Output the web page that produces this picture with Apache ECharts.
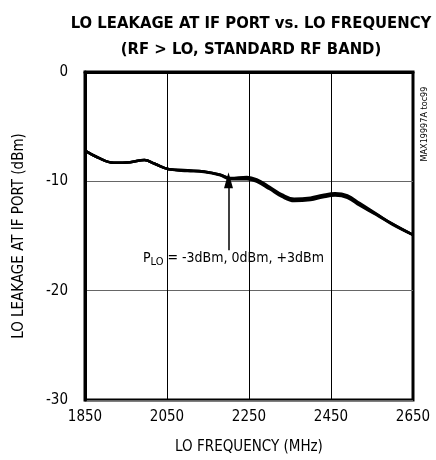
<!DOCTYPE html>
<html>
<head>
<meta charset="utf-8">
<script src="https://cdn.jsdelivr.net/npm/echarts@6/dist/echarts.min.js"></script>
<style>
  html, body { margin: 0; padding: 0; background: #fff; }
  #chart { width: 436px; height: 460px; }
</style>
</head>
<body>
<div id="chart"></div>
<script>
// LO frequency (MHz) and leakage (dBm) for the three LO drive levels
const freqs = [1850, 1880, 1920, 1960, 1995, 2020, 2055, 2100, 2140, 2180, 2205, 2245, 2270, 2300, 2330, 2360, 2400, 2430, 2460, 2490, 2520, 2560, 2600, 2650];
const leakM3 = [-7.2, -7.8, -8.3, -8.25, -8.05, -8.4, -8.9, -9.0, -9.1, -9.4, -9.7, -9.6, -9.85, -10.5, -11.2, -11.6, -11.5, -11.25, -11.1, -11.3, -12.0, -12.95, -13.9, -14.9];
const leak0  = [-7.2, -7.8, -8.3, -8.25, -8.05, -8.4, -8.9, -9.0, -9.1, -9.4, -9.75, -9.7, -9.95, -10.6, -11.3, -11.7, -11.6, -11.35, -11.2, -11.4, -12.1, -13.0, -13.9, -14.9];
const leakP3 = [-7.2, -7.8, -8.3, -8.25, -8.05, -8.4, -8.9, -9.05, -9.15, -9.45, -9.8, -9.8, -10.05, -10.7, -11.4, -11.8, -11.7, -11.45, -11.3, -11.5, -12.2, -13.05, -13.95, -14.9];
const xTicks = [1850, 2050, 2250, 2450, 2650];
const yTicks = [-30, -20, -10, 0];

const narrow = '"Liberation Sans Narrow", "DejaVu Sans Condensed", sans-serif';

const chart = echarts.init(document.getElementById('chart'));

function curve(vals) {
  return {
    type: 'line',
    data: freqs.map((f, i) => [f, vals[i]]),
    smooth: 0.4,
    symbol: 'none',
    lineStyle: { color: '#000', width: 2.6 },
    z: 5
  };
}

const series = [curve(leakM3), curve(leak0), curve(leakP3)];
series[1].markLine = {
  silent: true,
  symbol: ['none', 'triangle'],
  symbolSize: [9, 16],
  label: { show: false },
  lineStyle: { color: '#000', width: 1.5, type: 'solid' },
  data: [[{ coord: [2200, -16.3] }, { coord: [2200, -9.9] }]]
};

chart.setOption({
  animation: false,
  backgroundColor: '#fff',
  title: {
    text: 'LO LEAKAGE AT IF PORT vs. LO FREQUENCY\n(RF > LO, STANDARD RF BAND)',
    left: 246,
    top: 6,
    textAlign: 'center',
    textStyle: { fontFamily: narrow, fontWeight: 'bold', fontSize: 16.5, lineHeight: 26, color: '#000' }
  },
  grid: {
    left: 85, right: 23, top: 72, bottom: 60,
    show: true, borderColor: '#000', borderWidth: 3
  },
  xAxis: {
    type: 'value',
    min: 1850, max: 2650, interval: 200,
    name: 'LO FREQUENCY (MHz)',
    nameLocation: 'middle',
    nameGap: 40,
    nameTextStyle: { fontFamily: narrow, fontSize: 15, color: '#000' },
    axisLine: { show: true, lineStyle: { color: '#000', width: 3 } },
    axisTick: { show: false },
    axisLabel: {
      fontFamily: narrow, fontSize: 15, color: '#000', margin: 10,
      customValues: xTicks,
      formatter: (v) => String(v)
    },
    splitLine: { show: true, lineStyle: { color: '#000', width: 1 } }
  },
  yAxis: {
    type: 'value',
    min: -30, max: 0, interval: 10,
    name: 'LO LEAKAGE AT IF PORT (dBm)',
    nameLocation: 'middle',
    nameGap: 58,
    nameTextStyle: { fontFamily: narrow, fontSize: 15, color: '#000' },
    axisLine: { show: true, lineStyle: { color: '#000', width: 3 } },
    axisTick: { show: false },
    axisLabel: {
      fontFamily: narrow, fontSize: 15, color: '#000', margin: 17,
      customValues: yTicks,
      formatter: (v) => String(v)
    },
    splitLine: { show: true, lineStyle: { color: '#666', width: 1 } }
  },
  graphic: [
    {
      type: 'text',
      left: 143,
      top: 251,
      z: 10,
      style: {
        text: 'P{sub|LO} = -3dBm, 0dBm, +3dBm',
        font: '14px ' + narrow,
        fill: '#000',
        rich: {
          sub: { fontFamily: narrow, fontSize: 11, padding: [8, 0, 0, 0], fill: '#000' }
        }
      }
    },
    {
      type: 'text',
      x: 425,
      y: 124,
      rotation: Math.PI / 2,
      style: {
        text: 'MAX19997A toc99',
        font: '9px ' + narrow,
        fill: '#000',
        align: 'center',
        verticalAlign: 'middle'
      }
    }
  ],
  series: series
});
</script>
</body>
</html>
